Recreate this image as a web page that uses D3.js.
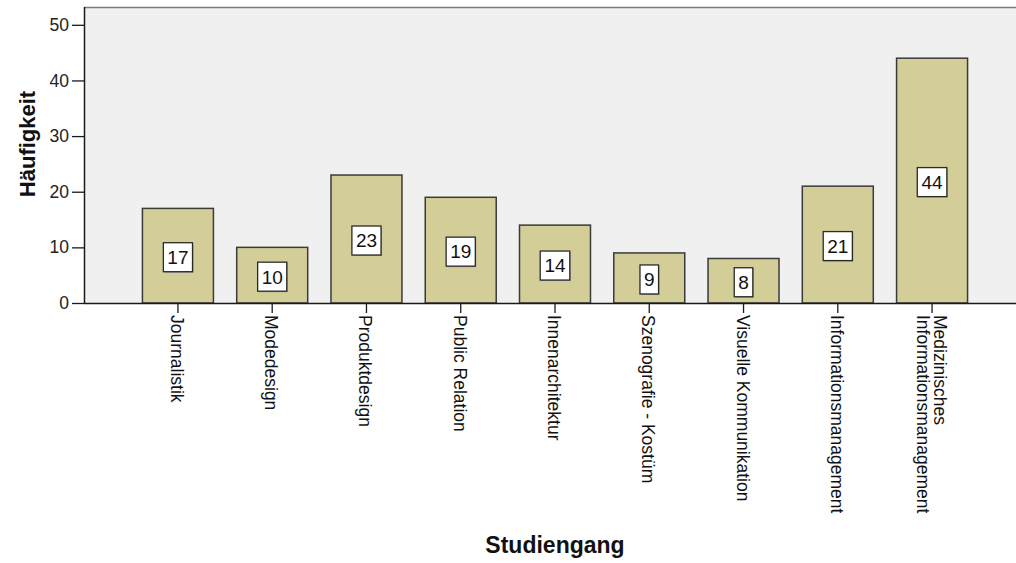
<!DOCTYPE html>
<html>
<head>
<meta charset="utf-8">
<script src="https://cdn.jsdelivr.net/npm/d3@7"></script>
<style>
  html, body { margin: 0; padding: 0; background: #ffffff; }
  svg { display: block; font-family: "Liberation Sans", Arial, sans-serif; }
</style>
</head>
<body>
<svg id="chart" width="1016" height="563"></svg>
<script>
// Studiengang frequencies
const categories = [
  "Journalistik",
  "Modedesign",
  "Produktdesign",
  "Public Relation",
  "Innenarchitektur",
  "Szenografie - Kostüm",
  "Visuelle Kommunikation",
  "Informationsmanagement",
  "Medizinisches\nInformationsmanagement"
];
const counts = [17, 10, 23, 19, 14, 9, 8, 21, 44];
const yTicks = [0, 10, 20, 30, 40, 50];
const xTitle = "Studiengang";
const yTitle = "Häufigkeit";

const svg = d3.select("#chart");

const plot = { left: 84, right: 1026, top: 7, bottom: 303 };

const x = d3.scaleBand()
  .domain(categories)
  .range([plot.left, plot.right])
  .paddingInner(0.247)
  .paddingOuter(0.62);

const y = d3.scaleLinear()
  .domain([0, 53.2])
  .range([plot.bottom, plot.top]);

// plot background
svg.append("rect")
  .attr("x", plot.left).attr("y", plot.top)
  .attr("width", plot.right - plot.left).attr("height", plot.bottom - plot.top)
  .attr("fill", "#f0f0f0");

// top frame line
svg.append("line")
  .attr("x1", plot.left).attr("x2", plot.right)
  .attr("y1", plot.top + 0.5).attr("y2", plot.top + 0.5)
  .attr("stroke", "#7a7a7a").attr("stroke-width", 1.5);

// bars
svg.append("g").selectAll("rect")
  .data(categories)
  .join("rect")
  .attr("x", d => x(d))
  .attr("y", (d, i) => y(counts[i]))
  .attr("width", x.bandwidth())
  .attr("height", (d, i) => y(0) - y(counts[i]))
  .attr("fill", "#d3ce98")
  .attr("stroke", "#3a3a3a")
  .attr("stroke-width", 1.5);

// value labels in white boxes
const labels = svg.append("g").selectAll("g")
  .data(categories)
  .join("g")
  .attr("transform", (d, i) =>
    `translate(${x(d) + x.bandwidth() / 2},${(y(counts[i]) + y(0)) / 2 + 1.5})`);

labels.append("text")
  .attr("text-anchor", "middle")
  .attr("dy", "0.36em")
  .attr("font-size", 19)
  .attr("fill", "#111")
  .text((d, i) => counts[i]);

labels.each(function () {
  const g = d3.select(this);
  const bb = g.select("text").node().getBBox();
  const w = bb.width + 8, h = 29;
  g.insert("rect", "text")
    .attr("x", -w / 2 + 1).attr("y", -h / 2 + 1)
    .attr("width", w).attr("height", h)
    .attr("fill", "#9a9a9a");
  g.insert("rect", "text")
    .attr("x", -w / 2).attr("y", -h / 2)
    .attr("width", w).attr("height", h)
    .attr("fill", "#ffffff")
    .attr("stroke", "#2a2a2a")
    .attr("stroke-width", 1.3);
});

// y axis
const yAxis = svg.append("g")
  .attr("transform", `translate(${plot.left},0)`)
  .call(d3.axisLeft(y).tickValues(yTicks).tickSize(12).tickPadding(3).tickSizeOuter(0));
yAxis.select(".domain").attr("stroke", "#1a1a1a").attr("stroke-width", 1.5)
  .attr("d", `M0.5,${plot.top}V${plot.bottom}`);
yAxis.selectAll(".tick line").attr("stroke", "#1a1a1a").attr("stroke-width", 1.3);
yAxis.selectAll(".tick text")
  .attr("font-size", 17.5)
  .attr("font-family", "Liberation Sans, Arial, sans-serif")
  .attr("fill", "#222");

// x axis
const xAxis = svg.append("g")
  .attr("transform", `translate(0,${plot.bottom})`)
  .call(d3.axisBottom(x).tickSize(10).tickSizeOuter(0));
xAxis.select(".domain").attr("stroke", "#1a1a1a").attr("stroke-width", 1.5)
  .attr("d", `M${plot.left},0.5H${plot.right}`);
xAxis.selectAll(".tick line").attr("stroke", "#1a1a1a").attr("stroke-width", 1.3);
xAxis.selectAll(".tick text").remove();

// rotated category labels, reading downward
xAxis.selectAll(".tick").each(function (d) {
  const lines = d.split("\n");
  const n = lines.length;
  const t = d3.select(this).append("text")
    .attr("transform", "rotate(90)")
    .attr("text-anchor", "start")
    .attr("font-size", 17.5)
    .attr("font-family", "Liberation Sans, Arial, sans-serif")
    .attr("fill", "#111");
  lines.forEach((line, i) => {
    t.append("tspan")
      .attr("x", 12)
      .attr("y", 7 - (n - 1) * 8.5 + i * 17)
      .text(line);
  });
});

// axis titles
svg.append("text")
  .attr("x", (plot.left + plot.right) / 2)
  .attr("y", 553)
  .attr("text-anchor", "middle")
  .attr("font-size", 23)
  .attr("font-weight", "bold")
  .attr("fill", "#111")
  .text(xTitle);

svg.append("text")
  .attr("transform", `translate(35,144) rotate(-90)`)
  .attr("text-anchor", "middle")
  .attr("font-size", 22)
  .attr("font-weight", "bold")
  .attr("fill", "#111")
  .text(yTitle);
</script>
</body>
</html>
